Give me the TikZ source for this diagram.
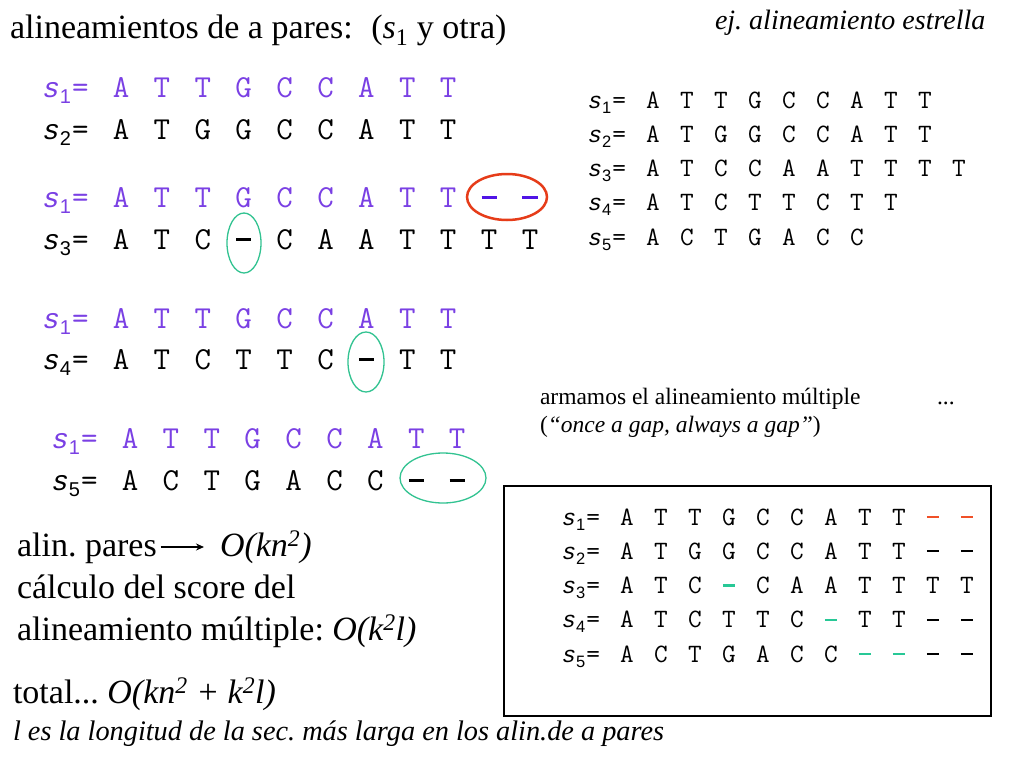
\documentclass[tikz,border=0pt]{standalone}
\usepackage{fontspec}
\setmainfont{Liberation Serif}
\newfontfamily\arialf{Liberation Sans}
\newfontfamily\arialsl{Liberation Sans}[FakeSlant=0.22]
\usetikzlibrary{calc,arrows.meta}
\frenchspacing
\definecolor{seqpurple}{RGB}{122,64,228}
\definecolor{gapblue}{RGB}{80,20,230}
\definecolor{ringred}{RGB}{230,60,25}
\definecolor{ringgreen}{RGB}{50,195,145}
\definecolor{gapred}{RGB}{240,80,40}
\definecolor{gapgreen}{RGB}{40,200,150}
\newcommand\gp{\rule[0.26em]{0.47em}{0.085em}}
\newcommand\bgp{{\color{gapblue}\gp}}
\newcommand\rgp{{\color{gapred}\gp}}
\newcommand\ggp{{\color{gapgreen}\gp}}
\newcommand\bigsubd[1]{{\arialf\fontsize{20}{24}\selectfont\kern3pt\raisebox{-6pt}{#1}}{\ttfamily\fontsize{32}{38}\selectfont\kern1pt=}}
\newcommand\smsubd[1]{{\arialf\fontsize{16.5}{20}\selectfont\kern2.5pt\raisebox{-5pt}{#1}}{\ttfamily\fontsize{26.5}{32}\selectfont\kern1pt=}}
\newcommand\bigrow[6]{%
  \node[bigs,text=#4] (#1s) at ({#2-32.5},#3) {s\bigsubd{#5}};
  \foreach \c [count=\i] in {#6} {\node[bigch,text=#4] (#1c\i) at ({#2+(\i-1)*40.9},#3) {\c};}%
}
\newcommand\smrow[6]{%
  \node[sms,text=#4] (#1s) at ({#2-27},#3) {s\smsubd{#5}};
  \foreach \c [count=\i] in {#6} {\node[smch,text=#4] (#1c\i) at ({#2+(\i-1)*34},#3) {\c};}%
}
\begin{document}
\begin{tikzpicture}[x=1pt,y=-1pt,
  every node/.style={inner sep=0pt,outer sep=0pt},
  bigch/.style={anchor=base,font=\ttfamily\fontsize{32}{38}\selectfont},
  bigs/.style={anchor=base east,font=\arialsl\fontsize{28}{34}\selectfont},
  smch/.style={anchor=base,font=\ttfamily\fontsize{26.5}{32}\selectfont},
  sms/.style={anchor=base east,font=\arialsl\fontsize{23}{28}\selectfont},
  txt/.style={anchor=base west,font=\fontsize{34}{40}\selectfont},
  smalltxt/.style={anchor=base west,font=\fontsize{23.5}{28}\selectfont},
  ring/.style={line width=1.3pt,ringgreen},
  redring/.style={line width=2.5pt,ringred}]
\useasboundingbox (0,0) rectangle (1024,768);
\fill[white] (0,0) rectangle (1024,768);
% titles
\node[txt] (title) at (10,38) {alineamientos de a pares:\hspace{0.55em}(\textit{s}\textsubscript{1} y otra)};
\node[anchor=base west,font=\fontsize{28}{34}\selectfont\itshape] (star) at (715,30) {ej. alineamiento estrella};
% pairwise alignments
\bigrow{a1}{121}{97.5}{seqpurple}{1}{A,T,T,G,C,C,A,T,T}
\bigrow{a2}{121}{139}{black}{2}{A,T,G,G,C,C,A,T,T}
\bigrow{b1}{121}{207}{seqpurple}{1}{A,T,T,G,C,C,A,T,T,\bgp,\bgp}
\bigrow{b3}{121}{249}{black}{3}{A,T,C,\gp,C,A,A,T,T,T,T}
\bigrow{c1}{121}{328}{seqpurple}{1}{A,T,T,G,C,C,A,T,T}
\bigrow{c4}{121}{369.5}{black}{4}{A,T,C,T,T,C,\gp,T,T}
\bigrow{d1}{130}{448}{seqpurple}{1}{A,T,T,G,C,C,A,T,T}
\bigrow{d5}{130}{490}{black}{5}{A,C,T,G,A,C,C,\gp,\gp}
% rings
\draw[redring] (507,197) ellipse [x radius=40,y radius=23];
\draw[ring] (244,243) ellipse [x radius=17,y radius=30];
\draw[ring] (366,362) ellipse [x radius=18,y radius=30];
\draw[ring] (443,478) ellipse [x radius=43,y radius=25];
% star input sequences
\smrow{e1}{653}{108}{black}{1}{A,T,T,G,C,C,A,T,T}
\smrow{e2}{653}{142.3}{black}{2}{A,T,G,G,C,C,A,T,T}
\smrow{e3}{653}{176.6}{black}{3}{A,T,C,C,A,A,T,T,T,T}
\smrow{e4}{653}{210.9}{black}{4}{A,T,C,T,T,C,T,T}
\smrow{e5}{653}{245.2}{black}{5}{A,C,T,G,A,C,C}
% explanation
\node[smalltxt] (arm) at (540,404) {armamos el alineamiento múltiple};
\node[smalltxt] (dots) at (937,404) {...};
\node[smalltxt] (once) at (540,432) {(\textit{“once a gap, always a gap”})};
% multiple alignment box
\draw[line width=1.2pt] (504,486) rectangle (991,716);
\smrow{f1}{627}{525}{black}{1}{A,T,T,G,C,C,A,T,T,\rgp,\rgp}
\smrow{f2}{627}{559.3}{black}{2}{A,T,G,G,C,C,A,T,T,\gp,\gp}
\smrow{f3}{627}{593.6}{black}{3}{A,T,C,\ggp,C,A,A,T,T,T,T}
\smrow{f4}{627}{627.9}{black}{4}{A,T,C,T,T,C,\ggp,T,T,\gp,\gp}
\smrow{f5}{627}{662.2}{black}{5}{A,C,T,G,A,C,C,\ggp,\ggp,\gp,\gp}
% complexity
\node[txt] (pares) at (17,556) {alin. pares};
\node[txt] (okn) at (220,556) {\textit{O(kn\textsuperscript{2})}};
\draw[line width=1.3pt,-{Stealth[length=8pt,width=7pt]}] ($(pares.base east)+(4,-9)$) -- ($(okn.base west)+(-16,-9)$);
\node[txt] (calc1) at (17,598) {cálculo del score del};
\node[txt] (calc2) at (17,640) {alineamiento múltiple: \textit{O(k\textsuperscript{2}l)}};
\node[txt] (total) at (13,703) {total... \textit{O(kn\textsuperscript{2} + k\textsuperscript{2}l)}};
\node[anchor=base west,font=\fontsize{28.3}{34}\selectfont\itshape] (lnote) at (13,740) {l es la longitud de la sec. más larga en los alin.de a pares};
\end{tikzpicture}
\end{document}
